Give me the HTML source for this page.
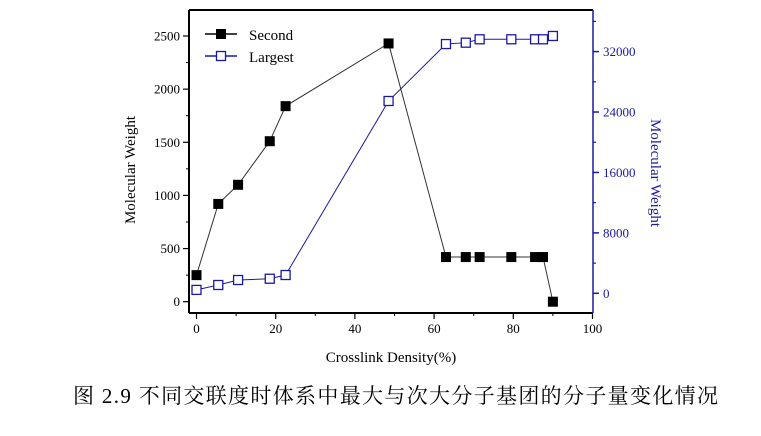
<!DOCTYPE html>
<html><head><meta charset="utf-8">
<style>
html,body{margin:0;padding:0;background:#fff;}
svg{display:block;}
text{font-family:"Liberation Serif","Noto Serif CJK SC",serif;}
</style></head>
<body>
<svg id="chart" width="761" height="436" viewBox="0 0 761 436" xmlns="http://www.w3.org/2000/svg">
<g id="axes"></g>
<g id="series"></g>
<g>
  <line x1="205" y1="34" x2="237" y2="34" stroke="#000" stroke-width="1.5"/>
  <rect x="216" y="29" width="10" height="10" fill="#000"/>
  <text x="249" y="40" font-size="15">Second</text>
  <line x1="205" y1="56" x2="237" y2="56" stroke="#1a1aa0" stroke-width="1.5"/>
  <rect x="216.5" y="51.5" width="9" height="9" fill="#fff" stroke="#1a1aa0" stroke-width="1.3"/>
  <text x="249" y="62" font-size="15">Largest</text>
</g>
<text x="135" y="170" font-size="15" text-anchor="middle" transform="rotate(-90 135 170)">Molecular Weight</text>
<text x="651" y="173" font-size="15" fill="#1a1aa0" text-anchor="middle" transform="rotate(90 651 173)">Molecular Weight</text>
<text x="391" y="362" font-size="15" text-anchor="middle">Crosslink Density(%)</text>
<text x="73" y="403" font-size="21" textLength="645" lengthAdjust="spacing">图 2.9 不同交联度时体系中最大与次大分子基团的分子量变化情况</text>
</svg>
<script>
const xValues = [0, 5.5, 10.5, 18.5, 22.5, 48.5, 63, 68, 71.5, 79.5, 85.5, 87.5, 90];
const secondValues = [250, 920, 1100, 1510, 1840, 2430, 420, 420, 420, 420, 420, 420, 0];
const largestValues = [450, 1100, 1760, 1930, 2420, 25460, 33000, 33180, 33630, 33630, 33630, 33630, 34070];
const xTicks = [0, 20, 40, 60, 80, 100];
const leftTicks = [0, 500, 1000, 1500, 2000, 2500];
const rightTicks = [0, 8000, 16000, 24000, 32000];

const L = 189, R = 593, T = 10, B = 313;
const BLUE = '#1a1aa0';
function xs(v){ return 196.5 + v * 3.96; }
function yl(v){ return 301.7 - v * 0.10628; }
function yr(v){ return 293.3 - v * 0.0075531; }
const NS = 'http://www.w3.org/2000/svg';
function mk(tag, attrs, parent){
  const e = document.createElementNS(NS, tag);
  for (const k in attrs) e.setAttribute(k, attrs[k]);
  parent.appendChild(e);
  return e;
}
const axes = document.getElementById('axes');
const series = document.getElementById('series');

// frame
let e;
e = mk('line', {x1:L, y1:T, x2:R, y2:T, stroke:'#000', 'stroke-width':2}, axes);


e = mk('line', {x1:L, y1:T, x2:L, y2:B, stroke:'#000', 'stroke-width':2}, axes);


e = mk('line', {x1:L, y1:B, x2:R, y2:B, stroke:'#000', 'stroke-width':2}, axes);


e = mk('line', {x1:R, y1:T, x2:R, y2:B, stroke:BLUE, 'stroke-width':1.5}, axes);



// x ticks
xTicks.forEach((v, i) => {
  const x = xs(v);
  mk('line', {x1:x, y1:B, x2:x, y2:B+6, stroke:'#000', 'stroke-width':1.2}, axes);
  if (i < xTicks.length - 1) {
    const xm = xs(v + 10);
    mk('line', {x1:xm, y1:B, x2:xm, y2:B+3, stroke:'#000', 'stroke-width':1}, axes);
  }
  const t = mk('text', {x:x, y:B+20, 'font-size':13, 'text-anchor':'middle'}, axes);
  t.textContent = v;
  
  
});
// left ticks
leftTicks.forEach(v => {
  const y = yl(v);
  mk('line', {x1:L-6, y1:y, x2:L, y2:y, stroke:'#000', 'stroke-width':1.2}, axes);
  const ym = yl(v + 250);
  if (ym > T) mk('line', {x1:L-3, y1:ym, x2:L, y2:ym, stroke:'#000', 'stroke-width':1}, axes);
  const t = mk('text', {x:L-9, y:y+4.5, 'font-size':13, 'text-anchor':'end'}, axes);
  t.textContent = v;
  
  
});
// right ticks
rightTicks.forEach(v => {
  const y = yr(v);
  mk('line', {x1:R, y1:y, x2:R+6, y2:y, stroke:BLUE, 'stroke-width':1.5}, axes);
  const ym = yr(v + 4000);
  if (ym > T) mk('line', {x1:R, y1:ym, x2:R+3, y2:ym, stroke:BLUE, 'stroke-width':1.2}, axes);
  const t = mk('text', {x:R+10, y:y+4.5, 'font-size':13, fill:BLUE}, axes);
  t.textContent = v;
  
  
});

// lines
const pLarge = xValues.map((x, i) => xs(x) + ',' + yr(largestValues[i])).join(' ');
e = mk('polyline', {points:pLarge, fill:'none', stroke:BLUE, 'stroke-width':1}, series);


const pSecond = xValues.map((x, i) => xs(x) + ',' + yl(secondValues[i])).join(' ');
e = mk('polyline', {points:pSecond, fill:'none', stroke:'#333', 'stroke-width':1}, series);



xValues.forEach((x, i) => {
  const r = mk('rect', {x:xs(x)-4.5, y:yr(largestValues[i])-4.5, width:9, height:9, fill:'#fff', stroke:BLUE, 'stroke-width':1.3}, series);
  
  
});
xValues.forEach((x, i) => {
  const r = mk('rect', {x:xs(x)-5, y:yl(secondValues[i])-5, width:10, height:10, fill:'#000'}, series);
  
  
});
</script>
</body></html>
